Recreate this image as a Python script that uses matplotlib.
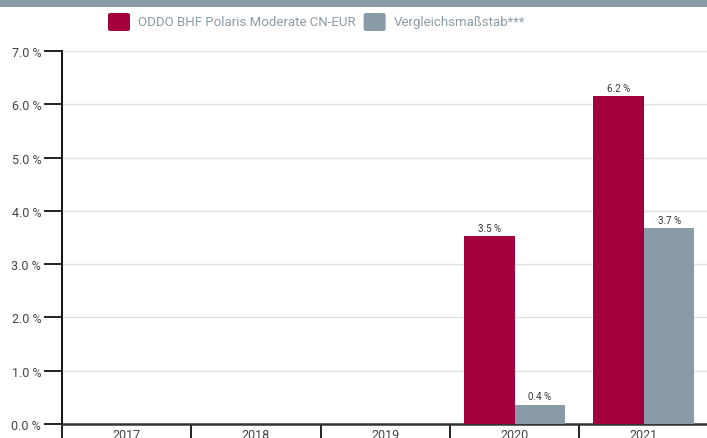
import matplotlib
matplotlib.use('Agg')
import matplotlib.pyplot as plt
import matplotlib.patches as mpatches
import numpy as np

plt.rcParams['font.family'] = ['Roboto', 'DejaVu Sans']

ROT   = '#A5003E'
GRAU  = '#8A9BA8'
TEXT  = '#444444'

# ── Daten ─────────────────────────────────────────────────────────────────────
jahre      = ['2017', '2018', '2019', '2020', '2021']
fonds      = [np.nan, np.nan, np.nan, 3.52, 6.15]
benchmark  = [np.nan, np.nan, np.nan, 0.36, 3.67]
fonds_lbl  = ['', '', '', '3.5 %', '6.2 %']
bench_lbl  = ['', '', '', '0.4 %', '3.7 %']
name_fonds = 'ODDO BHF Polaris Moderate CN-EUR'
name_bench = 'Vergleichsmaßstab***'

W, H = 707.0, 439.0
fig = plt.figure(figsize=(W / 100, H / 100), dpi=100, facecolor='white')
ax = fig.add_axes([62 / W, 14 / H, 646.5 / W, 373 / H])

x = np.arange(len(jahre))
bw = 0.39
b1 = ax.bar(x - bw / 2, fonds, bw, color=ROT, zorder=3)
b2 = ax.bar(x + bw / 2, benchmark, bw, color=GRAU, zorder=3)

for rects, lbls in [(b1, fonds_lbl), (b2, bench_lbl)]:
    for r, t in zip(rects, lbls):
        if t:
            ax.annotate(t, (r.get_x() + r.get_width() / 2, r.get_height()),
                        xytext=(0, 2.5), textcoords='offset points',
                        ha='center', va='bottom', fontsize=7, color='#333')

ax.set_xlim(-0.5, len(jahre) - 0.5)
ax.set_ylim(0, 7)
ax.set_yticks(np.arange(0, 8, 1))
ax.set_yticklabels([f'{v:.1f} %' for v in range(8)], fontsize=9, color=TEXT)
ax.yaxis.grid(True, color='#E2E2E2', linewidth=1, zorder=0)
ax.set_axisbelow(True)

ax.set_xticks(x)
ax.set_xticklabels(jahre, fontsize=9, color=TEXT)
ax.tick_params(axis='x', which='major', length=0, pad=3)
ax.set_xticks(np.arange(-0.5, len(jahre), 1), minor=True)
ax.tick_params(axis='x', which='minor', length=16, width=1.3, color='#111', direction='out')
ax.tick_params(axis='y', length=13, width=1.3, color='#111', pad=2)

for s in ['top', 'right']:
    ax.spines[s].set_visible(False)
ax.spines['left'].set_linewidth(1.4)
ax.spines['left'].set_color('#111')
ax.spines['bottom'].set_linewidth(1.8)
ax.spines['bottom'].set_color('#333')

# Banner oben
fig.add_artist(mpatches.Rectangle((0, 1 - 8 / H), 1, 8 / H, transform=fig.transFigure,
                                  facecolor=GRAU, edgecolor='none'))

# Legende (manuell, abgerundete Kästchen)
renderer = fig.canvas.get_renderer()
x0 = 108
for col, txt in [(ROT, name_fonds), (GRAU, name_bench)]:
    fig.add_artist(mpatches.FancyBboxPatch((x0 / W, 1 - 32 / H), 22 / W, 18 / H,
                                           boxstyle='round,pad=0,rounding_size=0.004',
                                           transform=fig.transFigure,
                                           facecolor=col, edgecolor='none'))
    t = fig.text((x0 + 30) / W, 1 - 22.5 / H, txt, fontsize=9.5, color=GRAU,
                 ha='left', va='center')
    x0 = x0 + 30 + t.get_window_extent(renderer).width + 8

plt.savefig('out.png', dpi=100, facecolor='white')
